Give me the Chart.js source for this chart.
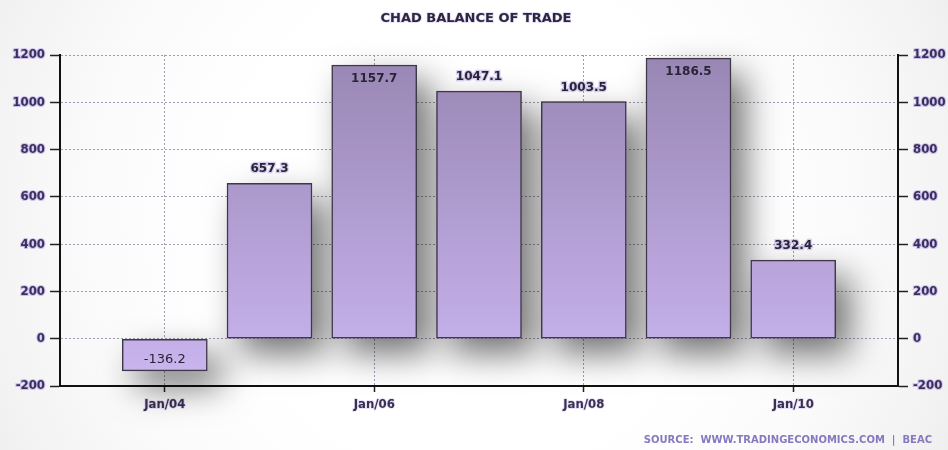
<!DOCTYPE html>
<html>
<head>
<meta charset="utf-8">
<script src="https://cdn.jsdelivr.net/npm/chart.js@4"></script>
<style>
  html, body { margin: 0; padding: 0; background: #ffffff; }
  #wrap { width: 948px; height: 450px; }
</style>
</head>
<body>
<div id="wrap"><canvas id="tradeChart" width="948" height="450"></canvas></div>
<script>
// datos del grafico
const years = [2004, 2005, 2006, 2007, 2008, 2009, 2010];
const balance = [-136.2, 657.3, 1157.7, 1047.1, 1003.5, 1186.5, 332.4];
const xTickYears = [2004, 2006, 2008, 2010];
const yTicks = [-200, 0, 200, 400, 600, 800, 1000, 1200];

const titleText = 'CHAD BALANCE OF TRADE';
const sourceText = 'SOURCE:  WWW.TRADINGECONOMICS.COM  |  BEAC';

const points = years.map((y, i) => ({ x: y, y: balance[i] }));

// fondo con degradado gris suave
const bgPlugin = {
    id: 'bg',
    beforeDraw(chart) {
        const c = chart.ctx;
        const w = chart.width, h = chart.height;
        c.save();
        c.fillStyle = '#ffffff';
        c.fillRect(0, 0, w, h);
        const g = c.createRadialGradient(470, 220, 200, 470, 220, 650);
        g.addColorStop(0, 'rgba(255,255,255,0)');
        g.addColorStop(1, 'rgba(205,205,205,0.6)');
        c.fillStyle = g;
        c.fillRect(0, 0, w, h);
        c.restore();
    }
};

// sombra detras de las barras (el elemento bar recorta su propio dibujo)
const shadowPlugin = {
    id: 'barShadow',
    beforeDatasetsDraw(chart) {
        const c = chart.ctx;
        const meta = chart.getDatasetMeta(0);
        c.save();
        c.shadowColor = 'rgba(0,0,0,0.55)';
        c.shadowBlur = 34;
        c.shadowOffsetX = 14;
        c.shadowOffsetY = 16;
        c.fillStyle = '#a898c8';
        meta.data.forEach(bar => {
            const top = Math.min(bar.y, bar.base);
            const h = Math.abs(bar.base - bar.y);
            c.fillRect(bar.x - bar.width / 2, top, bar.width, h);
        });
        c.restore();
    }
};

// etiquetas de valores, titulo y fuente
const labelsPlugin = {
    id: 'valueLabels',
    afterDraw(chart) {
        const c = chart.ctx;
        const area = chart.chartArea;
        const meta = chart.getDatasetMeta(0);
        c.save();
        c.textAlign = 'center';
        c.textBaseline = 'middle';
        meta.data.forEach((bar, i) => {
            const v = balance[i];
            const txt = v.toFixed(1);
            let y, inside = false;
            if (v >= 0) {
                y = bar.y - 14;
                if (y - 7 < area.top) { y = bar.y + 14; inside = true; }
            } else {
                y = bar.y + 13;
                if (y + 7 > area.bottom) { y = bar.y - 11; inside = true; }
            }
            if (inside) {
                c.font = (v >= 0 ? 'bold 12px' : 'normal 13px') + ' "DejaVu Sans"';
            } else {
                c.font = 'bold 12px "DejaVu Sans"';
                c.lineWidth = 2.5;
                c.strokeStyle = 'rgba(175,160,225,0.5)';
                c.strokeText(txt, bar.x, y);
            }
            c.fillStyle = '#2a2438';
            c.fillText(txt, bar.x, y);
        });

        // titulo
        c.font = 'bold 13px "DejaVu Sans"';
        c.lineWidth = 1.5;
        c.strokeStyle = 'rgba(175,160,225,0.4)';
        c.strokeText(titleText, 476, 19);
        c.fillStyle = '#2e2640';
        c.fillText(titleText, 476, 19);

        // fuente
        c.textAlign = 'right';
        c.font = 'bold 10px "DejaVu Sans"';
        c.fillStyle = '#8778c0';
        c.fillText(sourceText, 932, 440);
        c.restore();
    }
};

const tickFontY = { family: '"DejaVu Sans Condensed", "DejaVu Sans"', size: 13, weight: 'bold' };
const gridColor = '#a09cb0';

function yTickStyle() {
    return {
        padding: 5,
        color: '#3b2f5e',
        font: tickFontY,
        callback: v => String(v),
        textStrokeColor: 'rgba(170,150,225,0.55)',
        textStrokeWidth: 2
    };
}

new Chart(document.getElementById('tradeChart'), {
    type: 'bar',
    data: {
        datasets: [{
            data: points,
            barThickness: 85,
            borderWidth: 1.5,
            borderColor: '#3e3848',
            borderSkipped: false,
            backgroundColor(ctx) {
                const area = ctx.chart.chartArea;
                if (!area) return '#b19fd6';
                const g = ctx.chart.ctx.createLinearGradient(0, area.top, 0, area.bottom);
                g.addColorStop(0, '#9886b3');
                g.addColorStop(1, '#cbb6f1');
                return g;
            }
        }]
    },
    options: {
        responsive: false,
        animation: false,
        layout: { padding: { top: 55, left: 0, right: 0, bottom: 0 } },
        plugins: {
            legend: { display: false },
            tooltip: { enabled: false },
            title: { display: false }
        },
        scales: {
            x: {
                type: 'linear',
                min: 2003,
                max: 2011,
                offset: false,
                afterBuildTicks(scale) {
                    scale.ticks = xTickYears.map(v => ({ value: v }));
                },
                afterFit(scale) { scale.height = 64; },
                ticks: {
                    callback: v => 'Jan/' + String(v).slice(2),
                    padding: 5,
                    color: '#3a3050',
                    font: { family: '"DejaVu Sans Condensed", "DejaVu Sans"', size: 13, weight: 'bold' },
                    textStrokeColor: 'rgba(170,150,225,0.35)',
                    textStrokeWidth: 1.5,
                    maxRotation: 0
                },
                grid: {
                    offset: false,
                    color: gridColor,
                    lineWidth: 1,
                    tickLength: 6,
                    tickColor: '#222',
                    tickBorderDash: [],
                    tickWidth: 1.5
                },
                border: { color: '#111', width: 2, dash: [2, 2] }
            },
            y: {
                position: 'left',
                min: -200,
                max: 1200,
                afterBuildTicks(scale) {
                    scale.ticks = yTicks.map(v => ({ value: v }));
                },
                afterFit(scale) { scale.width = 60; },
                ticks: yTickStyle(),
                grid: {
                    color: gridColor,
                    lineWidth: 1,
                    tickLength: 10,
                    tickColor: '#222',
                    tickBorderDash: [],
                    tickWidth: 1.5
                },
                border: { color: '#111', width: 2, dash: [2, 2] }
            },
            y2: {
                position: 'right',
                min: -200,
                max: 1200,
                afterBuildTicks(scale) {
                    scale.ticks = yTicks.map(v => ({ value: v }));
                },
                afterFit(scale) { scale.width = 50; },
                ticks: yTickStyle(),
                grid: {
                    drawOnChartArea: false,
                    tickLength: 10,
                    tickColor: '#222',
                    tickWidth: 1.5
                },
                border: { color: '#111', width: 2 }
            }
        }
    },
    plugins: [bgPlugin, shadowPlugin, labelsPlugin]
});
</script>
</body>
</html>
